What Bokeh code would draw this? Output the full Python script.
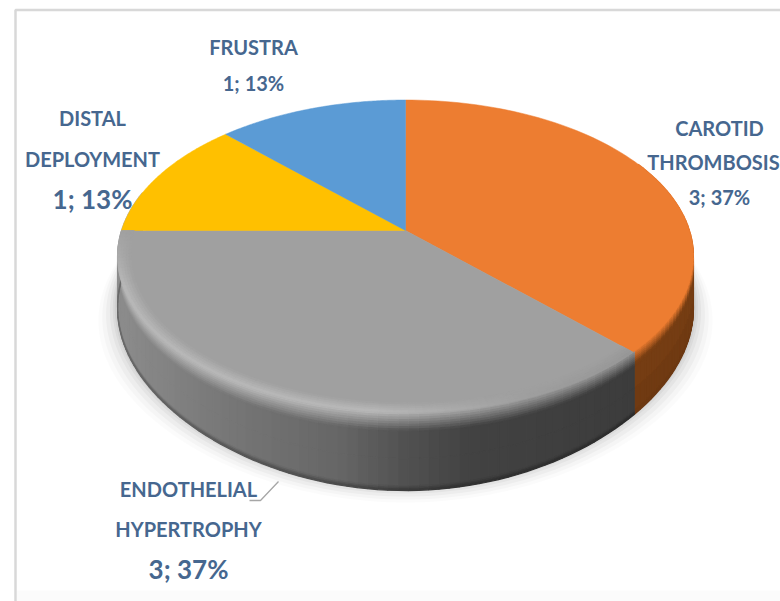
import numpy as np
from bokeh.plotting import figure
from bokeh.models import ColumnDataSource, Range1d
from bokeh.core.properties import value
from bokeh.embed import file_html
from bokeh.resources import INLINE

# ---- data ----
categories = ["CAROTID THROMBOSIS", "ENDOTHELIAL HYPERTROPHY", "DISTAL DEPLOYMENT", "FRUSTRA"]
counts = [3, 3, 1, 1]
percents = ["37%", "37%", "13%", "13%"]

# ---- styling ----
FACE = ["#ED7D31", "#A0A0A0", "#FFC000", "#5B9BD5"]
TEXT = "#46678F"
CX, CY, A, B, K = 405.0, 230.0, 284.0, 152.0, -0.165


def project(theta, r=1.0, t=0.0):
    """Pie angle (clockwise from top) + radius + drop fraction -> page position."""
    x = r * np.sin(theta)
    y = -r * np.cos(theta)
    w = 1 + K * y
    depth = (50 + 14 * y + 14 * np.maximum(y, 0) ** 4) * t
    return CX + A * x / w, CY + B * y / w + depth


def hexc(c):
    return "#%02x%02x%02x" % tuple(int(max(0, min(255, round(v)))) for v in c)


def rgb(h):
    return np.array([int(h[i:i + 2], 16) for i in (1, 3, 5)], float)


def mix(a, b, f):
    return a + (b - a) * f


cum = np.cumsum([0] + counts) / sum(counts) * 2 * np.pi

p = figure(width=780, height=601, output_backend="svg", toolbar_location=None,
           x_range=Range1d(0, 780), y_range=Range1d(601, 0),
           min_border=0, outline_line_color=None, background_fill_color="white")
p.xaxis.visible = False
p.yaxis.visible = False
p.grid.visible = False

# chart frame
p.quad(left=[16], right=[780], top=[590], bottom=[601], fill_color="#FBFBFB", line_color=None)
p.line([15, 15, 780], [601, 9.5, 9.5], line_color="#D8D8D8", line_width=2.5)

# soft shadow
th = np.linspace(0, 2 * np.pi, 241)
for grow, alpha in zip([20, 16, 12, 8, 5, 3], [.016, .025, .03, .036, .04, .045]):
    sx, sy = project(th, 1.0, 1.0)
    p.patch(CX + (sx - CX) * (1 + grow / 300), sy + grow * 0.75 - 3,
            fill_color="black", fill_alpha=alpha, line_color=None)


def gray_at(f):
    return np.interp(f, [0, .22, .43, .55, .685, 1], [140, 118, 102, 82, 66, 60])


# extruded side and rim, built as small quads
xs, ys, cols = [], [], []
theta_side = np.linspace(np.radians(62), np.radians(285), 130)
drops = np.concatenate([np.linspace(0, .24, 9), np.linspace(.24, .94, 3)[1:], np.linspace(.94, 1, 4)[1:]])
org_side = rgb("#7B4014")
for i in range(len(theta_side) - 1):
    a0, a1 = theta_side[i], theta_side[i + 1]
    mid = (a0 + a1) / 2
    is_orange = mid < cum[1]
    xm, _ = project(mid)
    for j in range(len(drops) - 1):
        t0, t1 = drops[j], drops[j + 1]
        tm = (t0 + t1) / 2
        if is_orange:
            side = org_side * (1 - .12 * tm)
            base = mix(rgb(FACE[0]), side, min(1, tm / .2))
        else:
            f = np.clip((xm - 117) / (632 - 117), 0, 1)
            g = gray_at(f)
            side = np.array([g, g, g]) * (1 - .3 * max(0, tm - .94) / .06)
            h = np.interp(f, [0, .5, .8, 1], [186, 186, 158, 150])
            base = mix(np.array([h, h, h]), side, min(1, tm / .24))
        qx0, qy0 = project(a0, 1, t0)
        qx1, qy1 = project(a1, 1, t0)
        qx2, qy2 = project(a1, 1, t1)
        qx3, qy3 = project(a0, 1, t1)
        xs.append([qx0, qx1, qx2, qx3])
        ys.append([qy0, qy1, qy2, qy3])
        cols.append(hexc(base))
p.patches(xs, ys, fill_color=cols, line_color=cols, line_width=1.2)

# top face slices, one per value
for i in range(len(counts)):
    a = np.linspace(cum[i], cum[i + 1], 90)
    ex, ey = project(a)
    p.patch(np.r_[CX, ex], np.r_[CY, ey], fill_color=FACE[i], line_color=FACE[i], line_width=.5)

# inner bevel of the rim on the front of the top face
xs, ys, cols = [], [], []
radii = np.linspace(.955, 1.0, 6)
theta_rim = np.linspace(cum[1], cum[2], 110)
for i in range(len(theta_rim) - 1):
    a0, a1 = theta_rim[i], theta_rim[i + 1]
    mid = (a0 + a1) / 2
    xm, _ = project(mid)
    f = np.clip((xm - 117) / (632 - 117), 0, 1)
    fade = np.clip((cum[2] - mid) / np.radians(20), 0, 1)
    h = np.interp(f, [0, .5, .8, 1], [186, 186, 158, 150])
    for j in range(len(radii) - 1):
        r0, r1 = radii[j], radii[j + 1]
        u = (j + .5) / (len(radii) - 1) * fade
        c = mix(rgb(FACE[1]), np.array([h, h, h]), u)
        x0, y0 = project(a0, r0)
        x1, y1 = project(a1, r0)
        x2, y2 = project(a1, r1)
        x3, y3 = project(a0, r1)
        xs.append([x0, x1, x2, x3])
        ys.append([y0, y1, y2, y3])
        cols.append(hexc(c))
p.patches(xs, ys, fill_color=cols, line_color=cols, line_width=.8)

# leader line
p.line([249, 260, 278], [500, 500, 481], line_color="#A6A6A6", line_width=1.3)

# labels
def val(i):
    return f"{counts[i]}; {percents[i]}"


label_text = ["CAROTID", "THROMBOSIS", val(0),
              "ENDOTHELIAL", "HYPERTROPHY", val(1),
              "DISTAL", "DEPLOYMENT", val(2),
              "FRUSTRA", val(3)]
label_x = [719, 713, 719, 188, 188, 188, 92, 92, 92, 253, 253]
label_y = [127, 161, 196, 488, 528, 568, 117, 158, 198, 46, 82]
label_size = ["20px", "20px", "20px", "20px", "20px", "26px", "20px", "20px", "26px", "20px", "20px"]
src = ColumnDataSource(dict(x=label_x, y=label_y, t=label_text, s=label_size))
p.text("x", "y", text="t", source=src, text_font=value("Lato"), text_font_style="bold",
       text_font_size="s", text_color=TEXT, text_align="center", text_baseline="middle")

open("out.html", "w").write(file_html(p, INLINE))
